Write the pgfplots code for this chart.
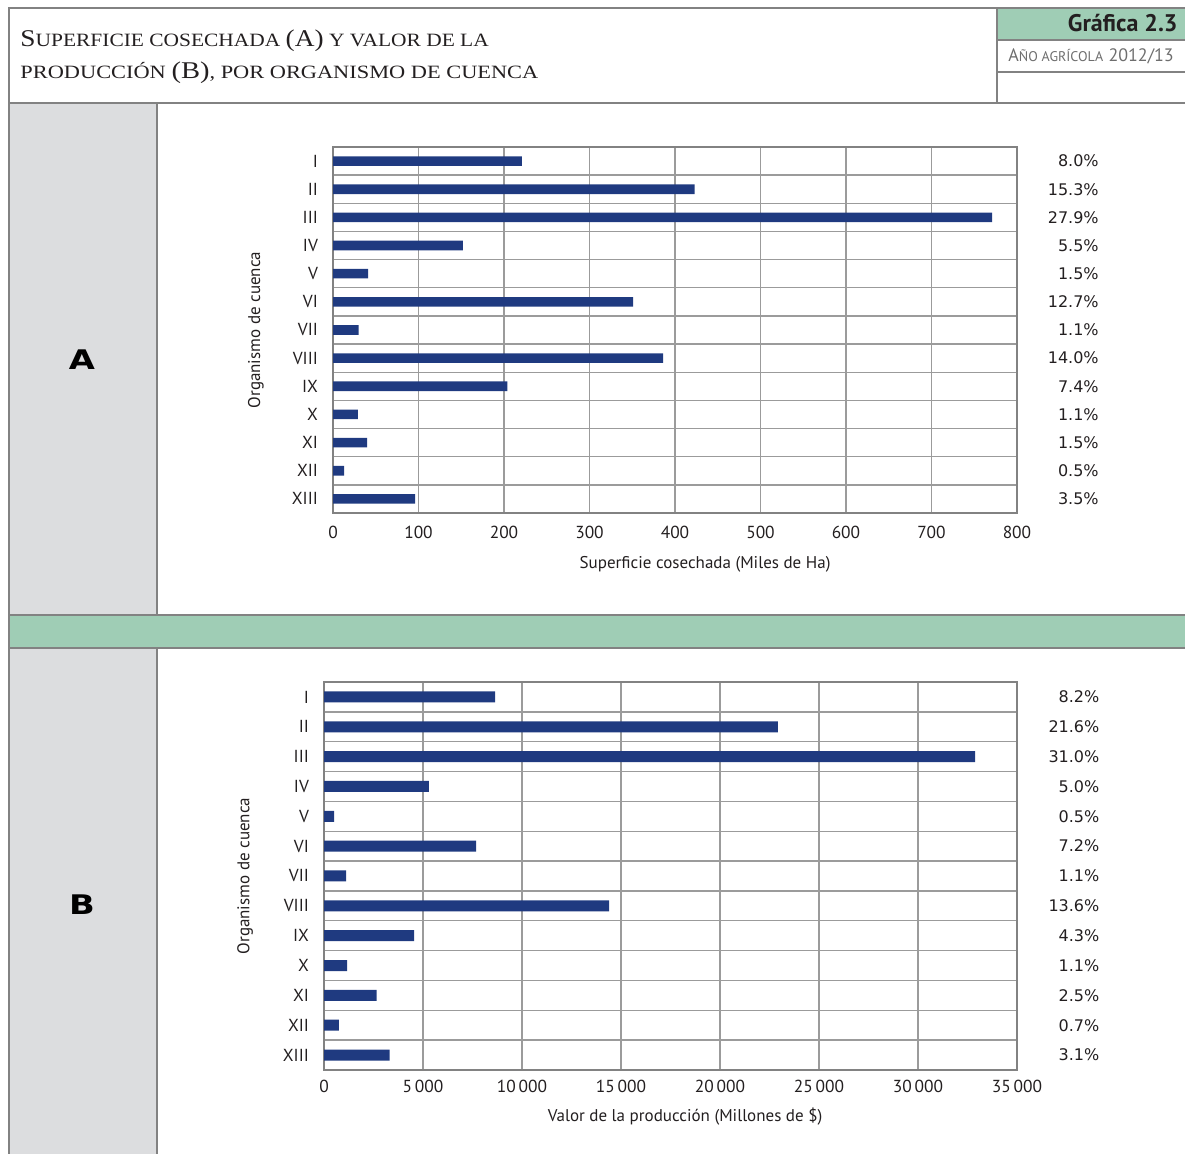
\documentclass[border=0pt]{standalone}
\usepackage{fontspec}
\usepackage{pgfplots}
\pgfplotsset{compat=1.18}
\newfontfamily\ptsans{PT Sans}
\newfontfamily\dejavu{DejaVu Sans}
\newfontfamily\libsans{Liberation Sans}
\newfontfamily\libserif{Liberation Serif}

\definecolor{barblue}{RGB}{31,58,128}
\definecolor{gridgray}{RGB}{155,155,155}
\definecolor{framegray}{RGB}{130,130,130}
\definecolor{sidegray}{RGB}{220,221,223}
\definecolor{bandgreen}{RGB}{159,205,181}
\definecolor{titlegray}{RGB}{35,31,32}
\definecolor{subgray}{RGB}{110,110,110}

% fake small caps for the title
\newcommand{\Cap}[1]{{\fontsize{12}{14}\selectfont #1}}
\newcommand{\Sm}[1]{{\fontsize{9.4}{12}\selectfont #1}}

\pgfplotsset{
  cuenca/.style={
    scale only axis, anchor=south west,
    xbar, y dir=reverse,
    ymin=0.5, ymax=13.5,
    ytick={1,...,13},
    yticklabels={I,II,III,IV,V,VI,VII,VIII,IX,X,XI,XII,XIII},
    minor ytick={1.5,2.5,...,12.5},
    yminorgrids, xmajorgrids,
    major grid style={gridgray, line width=0.7pt},
    minor grid style={gridgray, line width=0.7pt},
    axis line style={framegray, line width=0.8pt},
    major tick length=0pt, minor tick length=0pt,
    scaled x ticks=false,
    tick label style={font=\fontsize{8.7}{10}\selectfont\ptsans, text=titlegray},
    /pgf/number format/assume math mode=true,
    /pgf/number format/1000 sep={\,},
    yticklabel style={xshift=-4pt},
    label style={font=\fontsize{8.5}{10}\selectfont\ptsans, text=titlegray},
    clip=false,
  },
}
\tikzset{pct/.style={anchor=east, inner sep=0pt, font=\fontsize{8}{10}\selectfont\dejavu, text=titlegray}}

\begin{document}
\begin{tikzpicture}[x=0.5pt, y=0.5pt]
\path[use as bounding box] (0,0) rectangle (1185,1154);

% panels
\fill[sidegray] (9,539) rectangle (157,1051);
\fill[sidegray] (9,0) rectangle (157,506);
\fill[bandgreen] (9,506) rectangle (1185,539);
\fill[bandgreen] (997,1114) rectangle (1185,1146);
\begin{scope}[framegray, line width=0.8pt]
\draw (1185,1146) -- (9,1146) -- (9,0);
\draw (9,1051) -- (1185,1051);
\draw (997,1146) -- (997,1051);
\draw (997,1114) -- (1185,1114);
\draw (997,1082) -- (1185,1082);
\draw (157,1051) -- (157,539);
\draw (157,506) -- (157,0);
\draw (9,539) -- (1185,539);
\draw (9,506) -- (1185,506);
\end{scope}

% header text
\node[anchor=base west, inner sep=0pt, text=titlegray, font=\libserif, xscale=1.14]
  at (20,1107) {\Cap{S}\Sm{UPERFICIE COSECHADA }\Cap{(A)}\Sm{ Y VALOR DE LA}};
\node[anchor=base west, inner sep=0pt, text=titlegray, font=\libserif, xscale=1.19]
  at (20,1075) {\Sm{PRODUCCIÓN }\Cap{(B)}\Sm{, POR ORGANISMO DE CUENCA}};
\node[anchor=base east, inner sep=0pt, text=titlegray, font=\fontsize{12}{14}\selectfont\ptsans\bfseries]
  at (1178,1122) {Gráfica 2.3};
\node[anchor=base west, inner sep=0pt, text=subgray, font=\ptsans]
  at (1008,1092) {{\fontsize{9}{11}\selectfont A}{\fontsize{7}{9}\selectfont ÑO AGRÍCOLA} {\fontsize{9}{11}\selectfont 2012/13}};

\node[text=black, font=\fontsize{13.5}{15}\selectfont\dejavu\bfseries, xscale=1.25] at (82,794) {A};
\node[text=black, font=\fontsize{13.5}{15}\selectfont\dejavu\bfseries, xscale=1.25] at (82,249) {B};

% chart A
\begin{axis}[cuenca,
  at={(166.5pt,320.5pt)},
  width=342pt, height=183pt,
  bar width=4.8pt,
  xmin=0, xmax=800, xtick={0,100,...,800},
  xticklabel style={yshift=-3pt},
  xlabel={Superficie cosechada (Miles de Ha)},
  x label style={at={(axis description cs:0.544,0)}, anchor=north, yshift=-18pt},
  ylabel={Organismo de cuenca},
  y label style={at={(axis description cs:-0.1126,0.5)}, anchor=center},
]
\addplot[fill=barblue, draw=none] coordinates {
  (221,1) (423,2) (771,3) (152,4) (41,5) (351,6) (30,7)
  (386,8) (204,9) (29,10) (40,11) (13,12) (96,13)
};
\node[pct] at (axis cs:896,1) {8.0\%};
\node[pct] at (axis cs:896,2) {15.3\%};
\node[pct] at (axis cs:896,3) {27.9\%};
\node[pct] at (axis cs:896,4) {5.5\%};
\node[pct] at (axis cs:896,5) {1.5\%};
\node[pct] at (axis cs:896,6) {12.7\%};
\node[pct] at (axis cs:896,7) {1.1\%};
\node[pct] at (axis cs:896,8) {14.0\%};
\node[pct] at (axis cs:896,9) {7.4\%};
\node[pct] at (axis cs:896,10) {1.1\%};
\node[pct] at (axis cs:896,11) {1.5\%};
\node[pct] at (axis cs:896,12) {0.5\%};
\node[pct] at (axis cs:896,13) {3.5\%};
\end{axis}

% chart B
\begin{axis}[cuenca,
  at={(162pt,42pt)},
  width=346.5pt, height=194pt,
  bar width=5.5pt,
  xmin=0, xmax=35000, xtick={0,5000,...,35000},
  xticklabel style={yshift=-1.5pt},
  xlabel={Valor de la producción (Millones de \$)},
  x label style={at={(axis description cs:0.521,0)}, anchor=north, yshift=-15.5pt},
  ylabel={Organismo de cuenca},
  y label style={at={(axis description cs:-0.114,0.5)}, anchor=center},
]
\addplot[fill=barblue, draw=none] coordinates {
  (8640,1) (22920,2) (32880,3) (5300,4) (510,5) (7680,6) (1120,7)
  (14400,8) (4550,9) (1170,10) (2660,11) (750,12) (3320,13)
};
\node[pct] at (axis cs:39180,1) {8.2\%};
\node[pct] at (axis cs:39180,2) {21.6\%};
\node[pct] at (axis cs:39180,3) {31.0\%};
\node[pct] at (axis cs:39180,4) {5.0\%};
\node[pct] at (axis cs:39180,5) {0.5\%};
\node[pct] at (axis cs:39180,6) {7.2\%};
\node[pct] at (axis cs:39180,7) {1.1\%};
\node[pct] at (axis cs:39180,8) {13.6\%};
\node[pct] at (axis cs:39180,9) {4.3\%};
\node[pct] at (axis cs:39180,10) {1.1\%};
\node[pct] at (axis cs:39180,11) {2.5\%};
\node[pct] at (axis cs:39180,12) {0.7\%};
\node[pct] at (axis cs:39180,13) {3.1\%};
\end{axis}
\end{tikzpicture}
\end{document}
